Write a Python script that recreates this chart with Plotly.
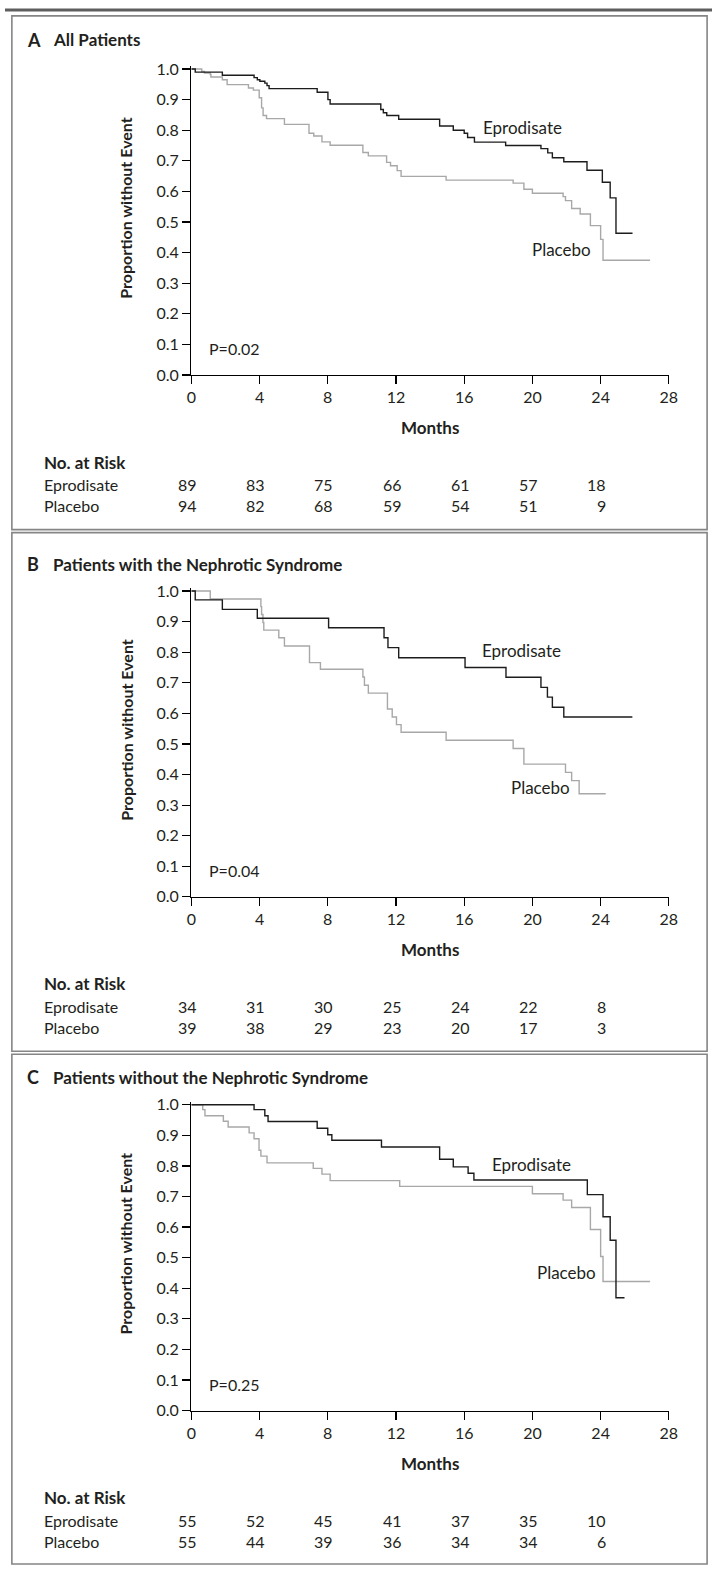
import plotly.graph_objects as go

W, H = 721, 1576
FONT = "Lato"

# ---------------- data ----------------
month_ticks = [0, 4, 8, 12, 16, 20, 24, 28]
prop_ticks = [0.0, 0.1, 0.2, 0.3, 0.4, 0.5, 0.6, 0.7, 0.8, 0.9, 1.0]

# Panel A: All Patients
a_epro_t = [0.23, 1.82, 3.68, 3.87, 4.02, 4.31, 4.44, 4.56, 7.38, 8.01, 8.14, 11.11, 11.26, 11.46,
            12.16, 14.56, 15.36, 16.0, 16.2, 16.6, 18.43, 20.5, 20.9, 21.17, 21.84, 23.2, 24.1,
            24.56, 24.9]
a_epro_v = [0.990, 0.980, 0.972, 0.965, 0.960, 0.954, 0.946, 0.936, 0.924, 0.900, 0.886, 0.868, 0.857,
            0.848, 0.836, 0.814, 0.800, 0.790, 0.776, 0.761, 0.750, 0.740, 0.726, 0.710, 0.697, 0.669,
            0.630, 0.579, 0.463]
a_epro_end = 25.87
a_plac_t = [0.61, 0.77, 1.11, 1.15, 1.82, 2.1, 3.35, 3.64, 3.98, 4.12, 4.21, 4.41, 5.46, 6.9, 7.18,
            7.66, 8.14, 10.06, 10.38, 11.45, 11.68, 12.07, 12.3, 14.94, 18.87, 19.5, 20.0, 21.8,
            21.94, 22.3, 22.8, 23.4, 24.0, 24.14]
a_plac_v = [0.992, 0.987, 0.982, 0.974, 0.965, 0.949, 0.938, 0.931, 0.906, 0.873, 0.848, 0.838, 0.819,
            0.790, 0.781, 0.762, 0.751, 0.727, 0.716, 0.695, 0.684, 0.668, 0.649, 0.637, 0.627, 0.607,
            0.594, 0.583, 0.570, 0.544, 0.526, 0.488, 0.443, 0.375]
a_plac_end = 26.9
a_risk_epro = [89, 83, 75, 66, 61, 57, 18]
a_risk_plac = [94, 82, 68, 59, 54, 51, 9]

# Panel B: Patients with the Nephrotic Syndrome
b_epro_t = [0.23, 1.82, 3.87, 8.05, 11.3, 11.53, 12.16, 16.05, 18.45, 20.5, 20.88, 21.17, 21.84]
b_epro_v = [0.971, 0.940, 0.911, 0.880, 0.847, 0.815, 0.782, 0.750, 0.718, 0.685, 0.653, 0.620, 0.588]
b_epro_end = 25.86
b_plac_t = [1.11, 4.08, 4.12, 4.2, 4.25, 5.13, 5.46, 6.93, 7.57, 10.06, 10.15, 10.38, 11.5, 11.78,
            12.03, 12.3, 14.94, 18.87, 19.5, 21.94, 22.3, 22.74]
b_plac_v = [0.974, 0.949, 0.923, 0.897, 0.872, 0.847, 0.820, 0.766, 0.744, 0.719, 0.692, 0.666, 0.614,
            0.588, 0.563, 0.538, 0.512, 0.485, 0.434, 0.407, 0.380, 0.337]
b_plac_end = 24.3
b_risk_epro = [34, 31, 30, 25, 24, 22, 8]
b_risk_plac = [39, 38, 29, 23, 20, 17, 3]

# Panel C: Patients without the Nephrotic Syndrome
c_epro_t = [3.68, 4.31, 4.5, 7.38, 8.0, 8.24, 11.15, 14.56, 15.36, 16.23, 16.57, 23.22, 24.14, 24.56,
            24.9]
c_epro_v = [0.984, 0.964, 0.945, 0.923, 0.902, 0.884, 0.862, 0.822, 0.797, 0.776, 0.754, 0.706, 0.634,
            0.557, 0.369]
c_epro_end = 25.4
c_plac_t = [0.67, 0.8, 1.88, 2.16, 3.39, 3.68, 3.97, 4.08, 4.44, 7.15, 7.66, 8.14, 12.22, 20.0, 21.8,
            22.3, 23.4, 24.0, 24.14]
c_plac_v = [0.984, 0.964, 0.946, 0.927, 0.908, 0.889, 0.851, 0.832, 0.810, 0.792, 0.773, 0.752, 0.733,
            0.709, 0.688, 0.664, 0.592, 0.504, 0.422]
c_plac_end = 26.9
c_risk_epro = [55, 52, 45, 41, 37, 35, 10]
c_risk_plac = [55, 44, 39, 36, 34, 34, 6]

risk_months = [0, 4, 8, 12, 16, 20, 24]

panels = [
    dict(letter="A", title="All Patients", p="P=0.02",
         epro=(a_epro_t, a_epro_v, a_epro_end), plac=(a_plac_t, a_plac_v, a_plac_end),
         risk=(a_risk_epro, a_risk_plac), lab_e=(19.4, 0.81), lab_p=(21.7, 0.41),
         y1=62.7, y0=371.7, title_y=33, box=(9, 528)),
    dict(letter="B", title="Patients with the Nephrotic Syndrome", p="P=0.04",
         epro=(b_epro_t, b_epro_v, b_epro_end), plac=(b_plac_t, b_plac_v, b_plac_end),
         risk=(b_risk_epro, b_risk_plac), lab_e=(19.35, 0.806), lab_p=(20.5, 0.356),
         y1=590, y0=899, title_y=563, box=(531, 1055)),
    dict(letter="C", title="Patients without the Nephrotic Syndrome", p="P=0.25",
         epro=(c_epro_t, c_epro_v, c_epro_end), plac=(c_plac_t, c_plac_v, c_plac_end),
         risk=(c_risk_epro, c_risk_plac), lab_e=(19.95, 0.805), lab_p=(22.0, 0.453),
         y1=1109, y0=1418, title_y=1081, box=(1058, 1573)),
]

# ---------------- layout helpers ----------------
X0, X1 = 190, 677          # pixel positions of month 0 and 28
YTOP = 1.01


def px(x):
    return x / W


def py(y):
    return 1 - y / H


def steps(t, v, end):
    return [0] + list(t) + [end], [1.0] + list(v) + [v[-1]]


fig = go.Figure()
annotations = []
shapes = []
EPRO_COL = "#1c1c1c"
PLAC_COL = "#a8a8a8"
TXT = "#231f20"
FS = 16

for i, pnl in enumerate(panels):
    n = "" if i == 0 else str(i + 1)
    xa, ya = "x" + n, "y" + n
    h = pnl["y0"] - pnl["y1"]
    top_px = pnl["y1"] - (YTOP - 1.0) * h
    for (t, v, end), col, name in [(pnl["plac"], PLAC_COL, "Placebo"), (pnl["epro"], EPRO_COL, "Eprodisate")]:
        xs, ys = steps(t, v, end)
        fig.add_trace(go.Scatter(x=xs, y=ys, mode="lines", line=dict(color=col, width=1.4, shape="hv"),
                                 xaxis=xa, yaxis=ya, showlegend=False, name=name, hoverinfo="skip"))
    axis_common = dict(showline=True, linecolor="#000", linewidth=1.2, ticks="outside", ticklen=8,
                       tickwidth=1.2, tickcolor="#000", showgrid=False, zeroline=False,
                       tickfont=dict(family=FONT, size=FS, color=TXT), fixedrange=True)
    fig.update_layout(**{
        ("xaxis" + n): dict(domain=[px(X0), px(X1)], range=[0, 28], tickvals=month_ticks,
                            anchor=ya, **axis_common),
        ("yaxis" + n): dict(domain=[py(pnl["y0"]), py(top_px)], range=[0, YTOP], tickvals=prop_ticks,
                            tickformat=".1f", anchor=xa, **axis_common),
    })
    # title
    annotations.append(dict(x=px(20), y=py(pnl["title_y"]), xref="paper", yref="paper", xanchor="left",
                            yanchor="middle", showarrow=False, text="<b>" + pnl["letter"] + "</b>",
                            font=dict(family=FONT, size=18, color=TXT)))
    annotations.append(dict(x=px(47), y=py(pnl["title_y"]), xref="paper", yref="paper", xanchor="left",
                            yanchor="middle", showarrow=False, text="<b>" + pnl["title"] + "</b>",
                            font=dict(family=FONT, size=17, color=TXT)))
    # y title
    annotations.append(dict(x=px(123), y=py((pnl["y0"] + pnl["y1"]) / 2 - 14), xref="paper", yref="paper",
                            xanchor="center", yanchor="middle", showarrow=False, textangle=-90,
                            text="<b>Proportion without Event</b>",
                            font=dict(family=FONT, size=FS, color=TXT)))
    # x title
    annotations.append(dict(x=px((X0 + X1) / 2), y=py(pnl["y0"] + 53), xref="paper", yref="paper",
                            xanchor="center", yanchor="middle", showarrow=False, text="<b>Months</b>",
                            font=dict(family=FONT, size=17, color=TXT)))
    # p value
    annotations.append(dict(x=0.9, y=0.085, xref=xa, yref=ya, xanchor="left", yanchor="middle",
                            showarrow=False, text=pnl["p"], font=dict(family=FONT, size=FS, color=TXT)))
    # curve labels
    annotations.append(dict(x=pnl["lab_e"][0], y=pnl["lab_e"][1], xref=xa, yref=ya, showarrow=False,
                            text="Eprodisate", font=dict(family=FONT, size=17, color=TXT)))
    annotations.append(dict(x=pnl["lab_p"][0], y=pnl["lab_p"][1], xref=xa, yref=ya, showarrow=False,
                            text="Placebo", font=dict(family=FONT, size=17, color=TXT)))
    # number at risk table
    annotations.append(dict(x=px(38), y=py(pnl["y0"] + 88), xref="paper", yref="paper", xanchor="left",
                            yanchor="middle", showarrow=False, text="<b>No. at Risk</b>",
                            font=dict(family=FONT, size=17, color=TXT)))
    for row, (lab, vals) in enumerate([("Eprodisate", pnl["risk"][0]), ("Placebo", pnl["risk"][1])]):
        yy = py(pnl["y0"] + 111 + 21 * row)
        annotations.append(dict(x=px(38), y=yy, xref="paper", yref="paper", xanchor="left",
                                yanchor="middle", showarrow=False, text=lab,
                                font=dict(family=FONT, size=FS, color=TXT)))
        for m, val in zip(risk_months, vals):
            annotations.append(dict(x=m + 0.45, y=yy, xref=xa, yref="paper", xanchor="right",
                                    yanchor="middle", showarrow=False, text=str(val),
                                    font=dict(family=FONT, size=FS, color=TXT)))
    # panel frame
    b0, b1 = pnl["box"]
    shapes.append(dict(type="rect", xref="paper", yref="paper", x0=px(7), x1=px(716), y0=py(b1), y1=py(b0),
                       line=dict(color="#858585", width=1.6), fillcolor="rgba(0,0,0,0)", layer="below"))

shapes.append(dict(type="line", xref="paper", yref="paper", x0=0, x1=1, y0=py(3), y1=py(3),
                   line=dict(color="#5e5e5e", width=3)))

fig.update_layout(width=W, height=H, margin=dict(l=0, r=0, t=0, b=0), paper_bgcolor="white",
                  plot_bgcolor="white", annotations=annotations, shapes=shapes, showlegend=False,
                  font=dict(family=FONT, color=TXT))

fig.write_html("out.html", config={"displayModeBar": False, "staticPlot": True},
               post_script="document.body.style.margin='0';document.body.style.padding='0';"
                           "document.documentElement.style.overflow='hidden';")
